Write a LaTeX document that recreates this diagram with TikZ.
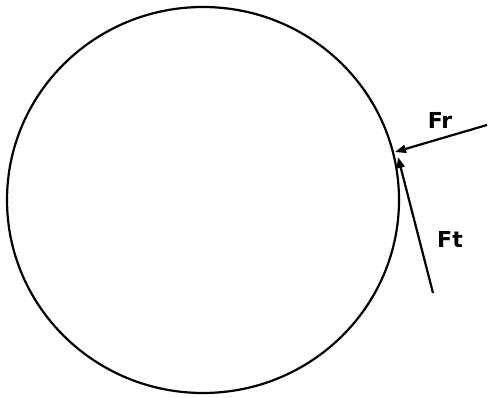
\documentclass[tikz,border=0pt]{standalone}
\usepackage{fontspec}
\setsansfont{DejaVu Sans}
\usetikzlibrary{arrows.meta}
\begin{document}
\begin{tikzpicture}[x=1pt,y=-1pt,
  stroke/.style={line width=2.2pt,black},
  force/.style={line width=2.2pt,-{Triangle[length=11pt,width=8pt]}},
  lbl/.style={font=\sffamily\bfseries\fontsize{22}{22}\selectfont,inner sep=0pt}]
\useasboundingbox (0,0) rectangle (488,398);
\fill[white] (0,0) rectangle (488,398);
\draw[stroke] (203,200) ellipse [x radius=196, y radius=193];
\coordinate (frstart) at (487,125);
\coordinate (frtip) at (395,152);
\coordinate (ftstart) at (433,293);
\coordinate (fttip) at (398,157);
\draw[force] (frstart) -- (frtip);
\draw[force] (ftstart) -- (fttip);
\node[lbl] (fr) at (440,120) {Fr};
\node[lbl] (ft) at (450,239) {Ft};
\end{tikzpicture}
\end{document}
